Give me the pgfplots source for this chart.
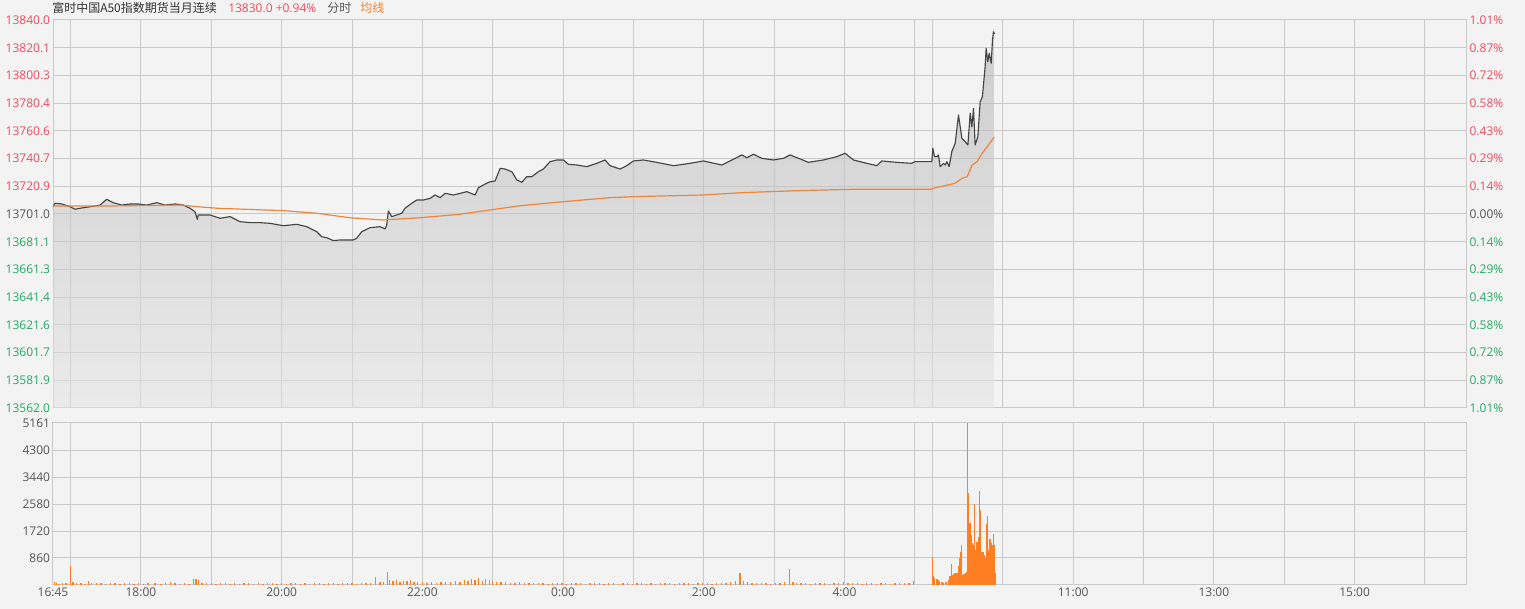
\documentclass[border=0pt]{standalone}
\usepackage{pgfplots}
\usepackage{pgfplotstable}
\pgfplotsset{compat=1.18}
\usepackage{fontspec}
\setmainfont{Open Sans}
\newfontfamily\cjk{Noto Sans CJK SC}
\definecolor{bg}{HTML}{F3F3F3}
\definecolor{gridc}{HTML}{C9C9C9}
\definecolor{upred}{HTML}{F2495C}
\definecolor{dngreen}{HTML}{27A865}
\definecolor{txtgray}{HTML}{555555}
\definecolor{avgorange}{HTML}{F0843A}
\definecolor{volorange}{HTML}{FF7E22}
\definecolor{pricegray}{HTML}{444444}
\definecolor{shtop}{HTML}{AFAFAF}
\definecolor{shbot}{HTML}{E4E4E4}

% minutes of trading time since 16:45 (5:15 of the night session is followed by 9:00)
\pgfplotstableread{
t p
0 13706.2
1.7 13708.7
7.4 13708.2
14.5 13706.2
18.8 13704.4
23 13705.1
31.6 13706.2
40.1 13707.4
45.8 13711.5
51.4 13709.1
58.6 13707.4
65.7 13708.2
72.5 13708.2
79.9 13707.4
88.5 13709.1
95.5 13707.4
104.1 13708.2
111.1 13707.4
116.9 13705.1
121.1 13702.6
123.1 13697.2
123.9 13700.3
133.9 13700.3
142.4 13697.9
151 13699.1
159.5 13695.5
168 13694.8
176.6 13694.8
185.1 13694.3
196.4 13692.6
207.9 13693.6
216.4 13691.9
224.9 13688.3
229.2 13684.7
233.5 13684.0
239.1 13681.9
244.8 13682.4
256.1 13682.4
259 13683.6
263.3 13688.3
270.4 13691.2
278.9 13691.9
283.2 13690.3
284.6 13693.1
286 13703.1
288.9 13699.1
293.2 13700.3
297.4 13701.5
300.2 13705.1
306 13708.7
310.2 13711.0
315.9 13711.0
321.6 13712.2
325.8 13714.6
330.1 13712.7
334.4 13715.8
341.4 13714.6
347.2 13715.8
352.9 13717.0
360 13714.6
362.8 13719.8
367 13721.8
372.7 13724.1
377 13724.6
381.3 13733.7
385.5 13733.2
391.3 13731.3
395.5 13725.4
399.8 13723.7
404 13727.7
408.3 13727.7
413.9 13731.3
418.2 13733.2
423.9 13738.5
429.6 13739.7
435.3 13739.7
439.5 13736.6
446.7 13736.1
455.2 13734.9
463.7 13737.3
470.8 13739.7
475.1 13735.6
483.6 13733.2
489.3 13735.6
495 13739.0
503.5 13739.7
514.9 13738.0
529.1 13735.6
543.3 13737.3
554.7 13739.0
570.3 13736.1
577.4 13739.0
587.4 13743.3
591.7 13741.3
597.3 13743.8
604.5 13740.9
614.4 13739.7
622.9 13740.9
628.6 13743.3
635.7 13740.9
644.2 13738.0
657 13739.7
668.5 13742.1
675.5 13744.5
682.6 13739.7
694 13737.3
702.6 13735.6
706.8 13739.0
719.6 13738.0
732.4 13737.3
735.2 13738.5
749.5 13738.5
750.3 13748.1
751.7 13742.1
753.8 13742.1
755.1 13743.3
756.6 13734.9
759.4 13737.3
760.8 13736.1
762.3 13738.5
764.2 13734.9
766.5 13745.6
769.4 13751.7
772.2 13771.9
775.1 13755.2
777.9 13752.8
780.2 13750.4
782.2 13773.2
783.6 13763.5
785 13776.7
786.4 13750.4
788.7 13756.4
790.7 13781.5
792.6 13785.0
794.9 13806.5
795.8 13819.7
797.2 13810.1
798.4 13816.1
800.1 13809.0
801.2 13825.7
802 13831.6
802.9 13830.0
}\pricetab

\pgfplotstableread{
t a
0 13706.7
46 13706.7
110.9 13707.4
116.9 13706.7
139.9 13705.1
196.2 13703.4
225.2 13701.5
253.3 13698.3
281.5 13696.7
313 13698.3
347.1 13700.8
378.7 13704.6
398.3 13706.9
435 13709.8
475.1 13712.7
494.7 13713.4
554.4 13714.6
588.5 13716.3
634.6 13717.7
682.4 13718.7
748.9 13718.7
750.6 13719.4
769.4 13723.0
775.3 13726.6
779.6 13727.7
783.9 13736.1
788.1 13738.5
792.4 13744.5
796.7 13749.2
802.6 13756.0
}\avgtab

\pgfplotstableread{
t v
1 90
3 60
5 45
8 70
11 50
15 615
17 80
20 55
24 65
27 40
30 127
33 60
37 50
41 70
45 45
49 60
53 55
57 40
61 65
65 50
69 45
73 60
77 40
81 55
87 50
92 45
96 70
100 100
104 55
108 40
112 50
116 45
120 180
122 190
124 150
127 70
131 50
135 60
139 45
143 55
147 50
151 40
155 60
159 45
163 55
167 50
171 40
175 60
179 45
183 55
187 50
191 45
195 60
199 40
203 55
207 50
211 45
215 60
219 40
223 55
227 70
231 45
235 60
239 50
243 40
247 55
251 65
255 50
259 45
263 60
267 50
271 70
275 245
279 90
282 110
285 424
287 160
290 130
293 160
296 110
299 140
302 120
305 150
308 90
311 100
315 80
319 70
323 90
327 60
331 80
335 110
339 90
343 130
347 100
351 150
354 120
357 180
360 160
363 220
366 140
369 200
372 170
375 130
378 110
382 90
386 80
390 70
394 60
398 80
402 60
406 50
410 70
414 55
418 60
422 45
426 55
430 60
434 50
438 45
442 55
446 60
450 50
454 45
458 55
462 50
466 60
470 45
474 55
478 50
482 40
486 55
490 60
494 45
498 50
502 55
506 40
510 60
514 45
518 55
522 50
526 60
530 45
534 55
538 50
542 60
546 45
550 55
554 50
558 60
562 45
566 55
570 70
574 60
578 80
582 130
586 380
589 120
592 80
596 60
600 55
604 50
608 60
612 45
616 55
620 60
624 90
628 510
631 80
634 60
638 55
642 50
646 45
650 55
654 50
658 60
662 45
666 55
670 70
674 90
678 60
682 55
686 50
690 45
694 55
698 50
702 45
706 55
710 50
714 45
718 55
722 50
726 60
730 70
734 127
750 902
751 287
752 230
754 182
755 150
756 127
758 90
759 73
761 95
762 105
764 159
765 300
766 659
767 319
768 360
769 392
770 380
771 373
772 600
773 850
774 1061
775 1274
776 319
777 350
778 373
779 424
780 5161
781 2941
782 1966
783 1600
784 1348
785 1274
786 2581
787 1115
788 1380
789 1539
790 3004
791 2390
792 1061
793 1061
794 950
795 850
796 1943
797 2198
798 1115
799 1456
800 1350
801 1274
802 1625
803 1274
804 392
}\voltab

\pgfplotsset{
  panel/.style={
    anchor=south west, scale only axis, width=1059.75pt,
    xmin=0, xmax=1205,
    axis line style={draw=gridc, line width=0.75pt},
    major tick length=0pt,
    scaled y ticks=false, scaled x ticks=false,
    grid=major, grid style={draw=gridc, line width=0.75pt},
    xtick={0,15,75,135,195,255,315,375,435,495,555,615,675,735,750,810,870,930,990,1050,1110,1170},
    tick label style={font=\fontsize{9}{10}\selectfont},
    yticklabel style={inner sep=2pt},
  },
}

\begin{document}
\begin{tikzpicture}
\path[use as bounding box, fill=bg] (0,0) rectangle (1143.75pt,456.75pt);

% title line
\node[anchor=west, inner sep=0pt, font=\fontsize{9}{10}\selectfont, text=black!80] at (39pt,450.75pt) {\cjk 富时中国A50指数期货当月连续};
\node[anchor=west, inner sep=0pt, font=\fontsize{9}{10}\selectfont, text=upred] at (171pt,450.75pt) {13830.0 +0.94\%};
\node[anchor=west, inner sep=0pt, font=\fontsize{9}{10}\selectfont, text=txtgray] at (245.25pt,450.75pt) {\cjk 分时};
\node[anchor=west, inner sep=0pt, font=\fontsize{9}{10}\selectfont, text=avgorange] at (270pt,450.75pt) {\cjk 均线};

% price panel
\begin{axis}[panel,
  at={(39.75pt,150.75pt)}, height=291pt,
  ymin=13562.0, ymax=13840.0,
  xticklabels={},
  ytick={13562.0,13581.9,13601.7,13621.6,13641.4,13661.3,13681.1,13701.0,13720.9,13740.7,13760.6,13780.4,13800.3,13820.1,13840.0},
  yticklabels={\textcolor{dngreen}{13562.0},\textcolor{dngreen}{13581.9},\textcolor{dngreen}{13601.7},\textcolor{dngreen}{13621.6},\textcolor{dngreen}{13641.4},\textcolor{dngreen}{13661.3},\textcolor{dngreen}{13681.1},\textcolor{txtgray}{13701.0},\textcolor{upred}{13720.9},\textcolor{upred}{13740.7},\textcolor{upred}{13760.6},\textcolor{upred}{13780.4},\textcolor{upred}{13800.3},\textcolor{upred}{13820.1},\textcolor{upred}{13840.0}},
]
\addplot[draw=none, top color=shtop, bottom color=shbot, fill opacity=0.55] table[x=t,y=p]{\pricetab} \closedcycle;
\addplot[draw=pricegray, line width=0.85pt, line join=round] table[x=t,y=p]{\pricetab};
\addplot[draw=avgorange, line width=0.9pt] table[x=t,y=a]{\avgtab};
\end{axis}

% percentage labels on the right
\begin{axis}[
  at={(39.75pt,150.75pt)}, anchor=south west, scale only axis,
  width=1059.75pt, height=291pt,
  xmin=0, xmax=1205, ymin=13562.0, ymax=13840.0,
  axis x line=none, axis y line*=right,
  scaled y ticks=false,
  axis line style={draw=none}, major tick length=0pt,
  tick label style={font=\fontsize{9}{10}\selectfont},
  yticklabel style={inner sep=2.5pt},
  ytick={13562.0,13581.9,13601.7,13621.6,13641.4,13661.3,13681.1,13701.0,13720.9,13740.7,13760.6,13780.4,13800.3,13820.1,13840.0},
  yticklabels={\textcolor{dngreen}{1.01\%},\textcolor{dngreen}{0.87\%},\textcolor{dngreen}{0.72\%},\textcolor{dngreen}{0.58\%},\textcolor{dngreen}{0.43\%},\textcolor{dngreen}{0.29\%},\textcolor{dngreen}{0.14\%},\textcolor{txtgray}{0.00\%},\textcolor{upred}{0.14\%},\textcolor{upred}{0.29\%},\textcolor{upred}{0.43\%},\textcolor{upred}{0.58\%},\textcolor{upred}{0.72\%},\textcolor{upred}{0.87\%},\textcolor{upred}{1.01\%}},
]
\addplot[draw=none] coordinates {(0,13701)};
\end{axis}

% volume panel
\begin{axis}[panel,
  at={(39.75pt,18pt)}, height=121.5pt,
  ymin=0, ymax=5161,
  ytick={860,1720,2580,3440,4300,5161},
  yticklabels={860,1720,2580,3440,4300,5161},
  yticklabel style={text=txtgray},
  xticklabels={16:45,,18:00,,20:00,,22:00,,0:00,,2:00,,4:00,,,,11:00,,13:00,,15:00,},
  xticklabel style={text=txtgray, inner sep=2pt},
]
\addplot[ycomb, draw=volorange, line width=1.0pt] table[x=t,y=v]{\voltab};
\end{axis}
\end{tikzpicture}
\end{document}
